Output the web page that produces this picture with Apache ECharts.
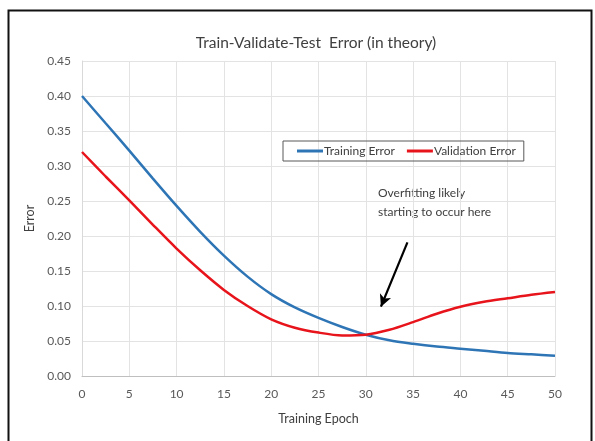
<!DOCTYPE html>
<html>
<head>
<meta charset="utf-8">
<script src="https://cdn.jsdelivr.net/npm/echarts@6/dist/echarts.min.js"></script>
<style>
html,body{margin:0;padding:0;background:#fff;}
#chart{width:595px;height:441px;}
</style>
</head>
<body>
<div id="chart"></div>
<script>
// Data
var epochs = [0, 2.5, 5, 7.5, 10, 12.5, 15, 17.5, 20, 22.5, 25, 27.5, 30, 32.5, 35, 37.5, 40, 42.5, 45, 47.5, 50];
var trainingError = [0.400, 0.361, 0.322, 0.282, 0.243, 0.206, 0.172, 0.142, 0.117, 0.098, 0.083, 0.070, 0.059, 0.051, 0.046, 0.042, 0.039, 0.036, 0.033, 0.031, 0.029];
var validationError = [0.320, 0.285, 0.251, 0.216, 0.182, 0.151, 0.123, 0.100, 0.081, 0.069, 0.062, 0.058, 0.059, 0.066, 0.077, 0.089, 0.099, 0.106, 0.111, 0.116, 0.120];
var arrowStart = [34.4, 0.191];
var arrowEnd = [31.6, 0.099];
var annotationText = 'Overfitting likely\nstarting to occur here';

function pairs(xs, ys) { return xs.map(function (x, i) { return [x, ys[i]]; }); }

var font = 'Lato, "Open Sans", sans-serif';
var chart = echarts.init(document.getElementById('chart'), null, {renderer: 'canvas'});
chart.setOption({
  animation: false,
  backgroundColor: '#fff',
  title: {
    text: 'Train-Validate-Test  Error (in theory)',
    left: 311, top: 30, textAlign: 'center',
    textStyle: {fontFamily: font, fontSize: 15.5, fontWeight: 'normal', color: '#404040'}
  },
  legend: {
    left: 283, top: 141,
    padding: [4, 8, 4, 14],
    borderColor: '#595959', borderWidth: 1,
    itemGap: 12, itemWidth: 26, itemHeight: 3, icon: 'rect',
    textStyle: {fontFamily: font, fontSize: 12, color: '#404040', padding: [0, 0, 0, -4]},
    data: ['Training Error', 'Validation Error']
  },
  grid: {left: 82, right: 40, top: 61, bottom: 65, containLabel: false},
  xAxis: {
    type: 'value', min: 0, max: 50, interval: 5,
    name: 'Training Epoch', nameLocation: 'middle', nameGap: 36,
    nameTextStyle: {fontFamily: font, fontSize: 12.5, color: '#404040'},
    axisLine: {show: true, lineStyle: {color: '#bfbfbf'}},
    axisTick: {show: false},
    axisLabel: {fontFamily: font, fontSize: 12, color: '#595959', margin: 12},
    splitLine: {show: true, lineStyle: {color: '#e3e3e3'}}
  },
  yAxis: {
    type: 'value', min: 0, max: 0.45, interval: 0.05,
    name: 'Error', nameLocation: 'middle', nameGap: 43,
    nameTextStyle: {fontFamily: font, fontSize: 12.5, color: '#404040'},
    axisLine: {show: true, lineStyle: {color: '#d9d9d9'}},
    axisTick: {show: false},
    axisLabel: {fontFamily: font, fontSize: 12, color: '#595959', margin: 11,
      formatter: function (v) { return v.toFixed(2); }},
    splitLine: {show: true, lineStyle: {color: '#e3e3e3'}}
  },
  series: [
    {
      name: 'Training Error', type: 'line', smooth: 0.3, showSymbol: false,
      data: pairs(epochs, trainingError),
      lineStyle: {color: '#2e75b6', width: 2.5}, itemStyle: {color: '#2e75b6'}, z: 3
    },
    {
      name: 'Validation Error', type: 'line', smooth: 0.3, showSymbol: false,
      data: pairs(epochs, validationError),
      lineStyle: {color: '#e8141c', width: 2.5}, itemStyle: {color: '#e8141c'}, z: 4,
      markLine: {
        silent: true, symbol: ['none', 'arrow'], symbolSize: [9, 12],
        label: {show: false},
        lineStyle: {color: '#000', width: 2.2, type: 'solid'},
        data: [[{coord: arrowStart}, {coord: arrowEnd}]]
      }
    }
  ],
  graphic: [
    {type: 'rect', left: 6, top: 8, shape: {width: 583, height: 450},
      style: {fill: 'none', stroke: '#111', lineWidth: 2}, silent: true},
    {type: 'text', left: 378, top: 184,
      style: {text: annotationText, fontFamily: font, fontSize: 12, fill: '#404040', lineHeight: 19}}
  ]
});
</script>
</body>
</html>
